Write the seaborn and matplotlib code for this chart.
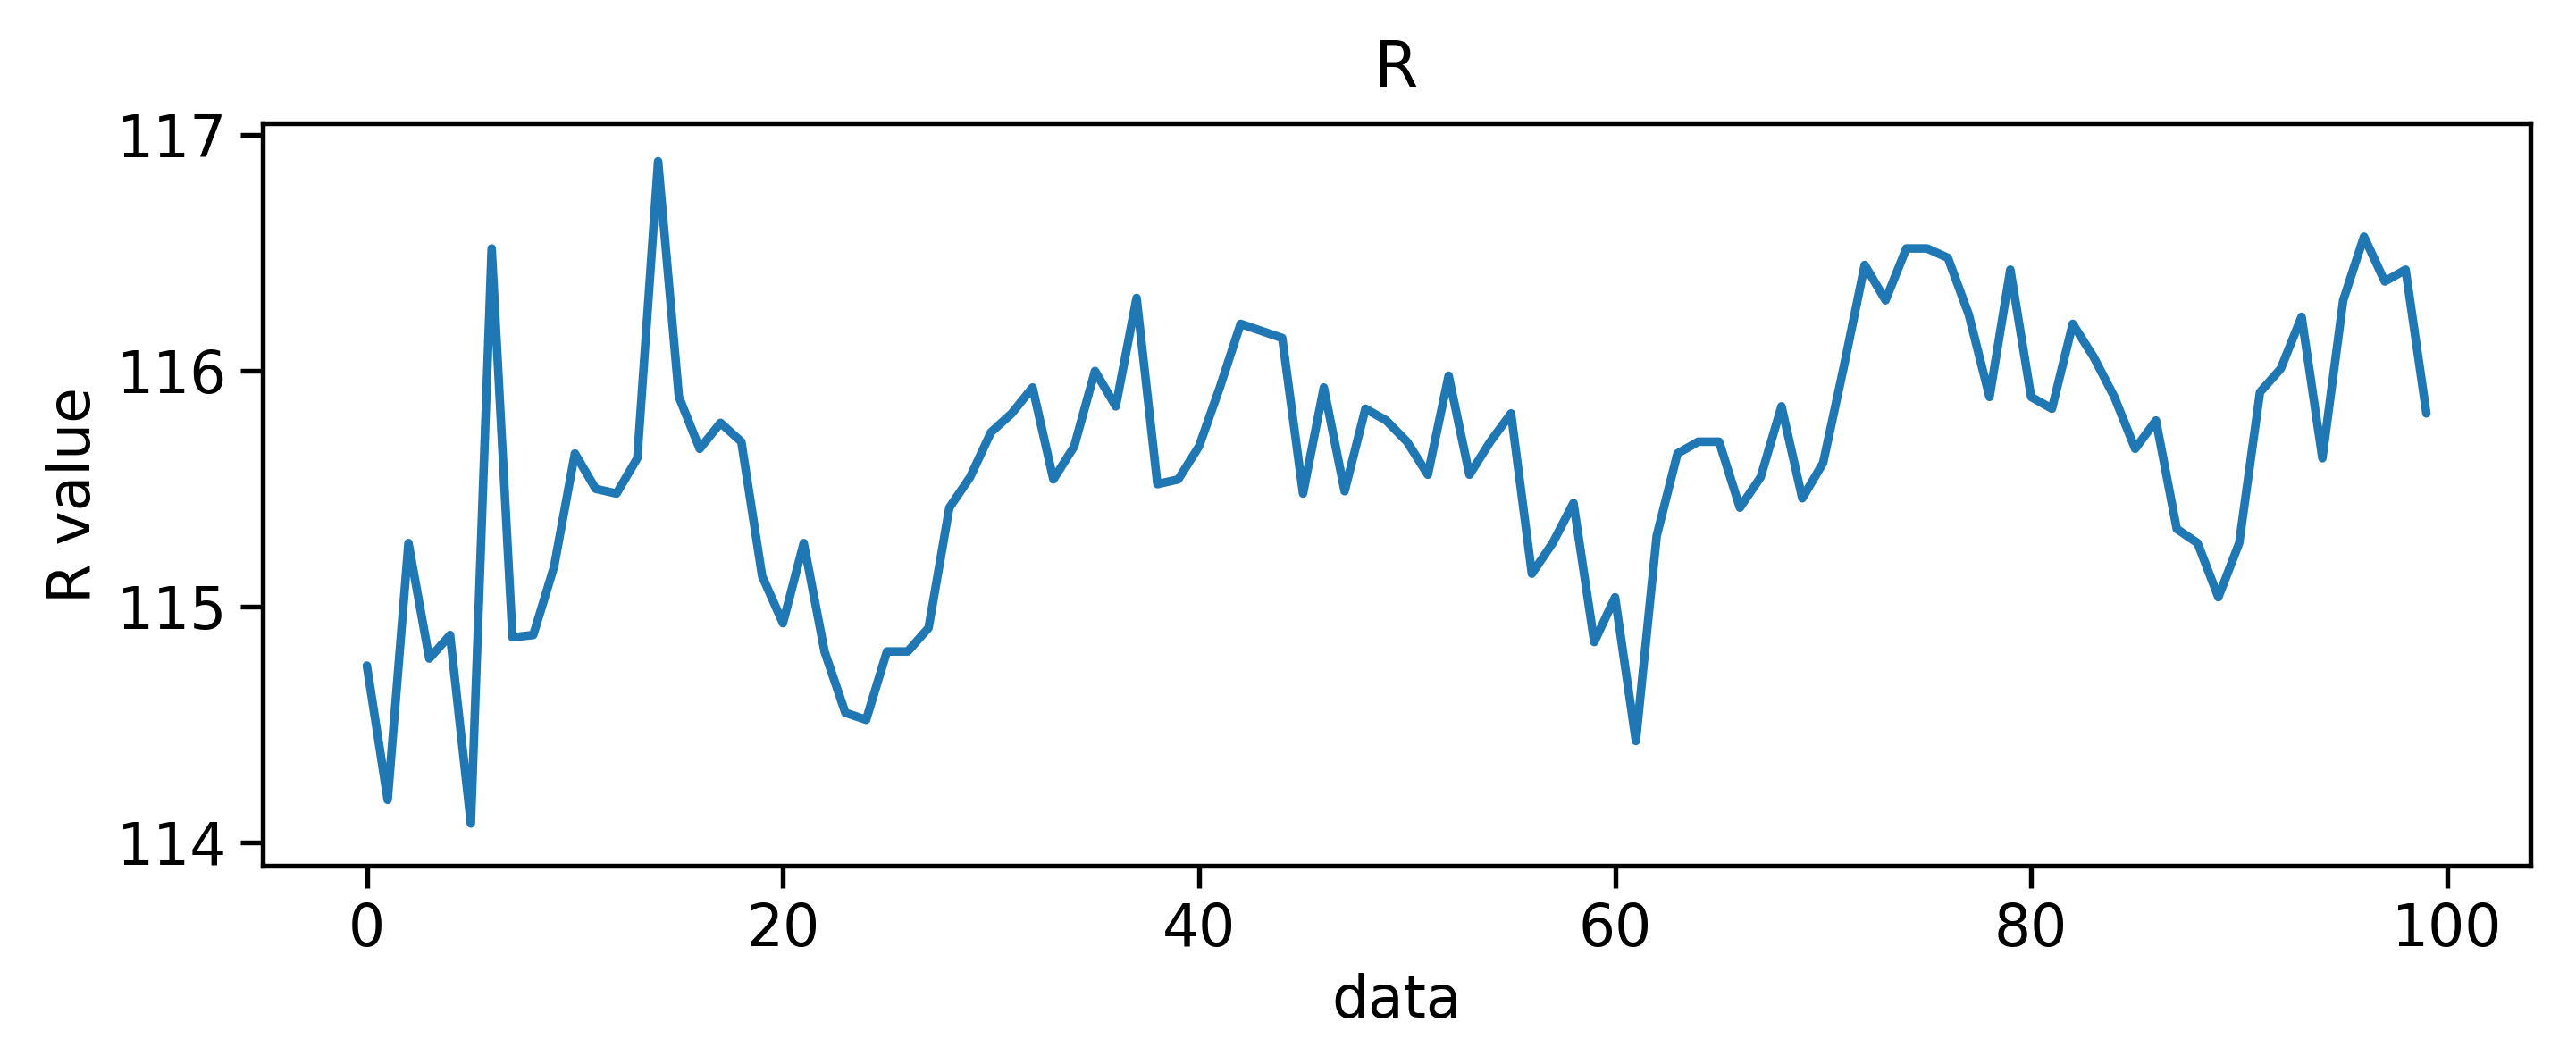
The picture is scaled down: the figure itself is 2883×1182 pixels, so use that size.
import matplotlib
matplotlib.use("Agg")
import matplotlib.pyplot as plt
import numpy as np
import pandas as pd
import seaborn as sns

# values
r_values = [
    114.75, 114.18, 115.27, 114.78, 114.88, 114.08, 116.52, 114.87, 114.88, 115.17,
    115.65, 115.50, 115.48, 115.63, 116.89, 115.89, 115.67, 115.78, 115.70, 115.13,
    114.93, 115.27, 114.81, 114.55, 114.52, 114.81, 114.81, 114.91, 115.42, 115.55,
    115.74, 115.82, 115.93, 115.54, 115.68, 116.00, 115.85, 116.31, 115.52, 115.54,
    115.68, 115.93, 116.20, 116.17, 116.14, 115.48, 115.93, 115.49, 115.84, 115.79,
    115.70, 115.56, 115.98, 115.56, 115.70, 115.82, 115.14, 115.27, 115.44, 114.85,
    115.04, 114.43, 115.30, 115.65, 115.70, 115.70, 115.42, 115.55, 115.85, 115.46,
    115.61, 116.02, 116.45, 116.30, 116.52, 116.52, 116.48, 116.24, 115.89, 116.43,
    115.89, 115.84, 116.20, 116.06, 115.89, 115.67, 115.79, 115.33, 115.27, 115.04,
    115.27, 115.91, 116.01, 116.23, 115.63, 116.30, 116.57, 116.38, 116.43, 115.82,
]
data_index = list(range(len(r_values)))

df = pd.DataFrame({"data": data_index, "R value": r_values})

sns.set_style("ticks")
plt.rcParams.update({
    "font.size": 15.5,
    "text.color": "black",
    "axes.labelcolor": "black",
    "xtick.color": "black",
    "ytick.color": "black",
    "axes.edgecolor": "black",
    "axes.linewidth": 1.3,
    "xtick.major.width": 1.3,
    "ytick.major.width": 1.3,
    "xtick.major.size": 6,
    "ytick.major.size": 6,
})
fig = plt.figure(figsize=(9.613, 3.94), dpi=300)
ax = fig.add_axes([0.102, 0.18, 0.88, 0.703])
sns.lineplot(data=df, x="data", y="R value", color="#1f77b4", linewidth=2.3, ax=ax)
ax.set_title("R", fontsize=17, pad=10)
ax.set_xlabel("data", fontsize=15.5)
ax.set_ylabel("R value", fontsize=15.5)
ax.tick_params(labelsize=15.5)
ax.set_xticks([0, 20, 40, 60, 80, 100])
ax.set_yticks([114, 115, 116, 117])
ax.set_xlim(-5, 104)
ax.set_ylim(113.9, 117.05)
fig.savefig("out.png", dpi=300)
